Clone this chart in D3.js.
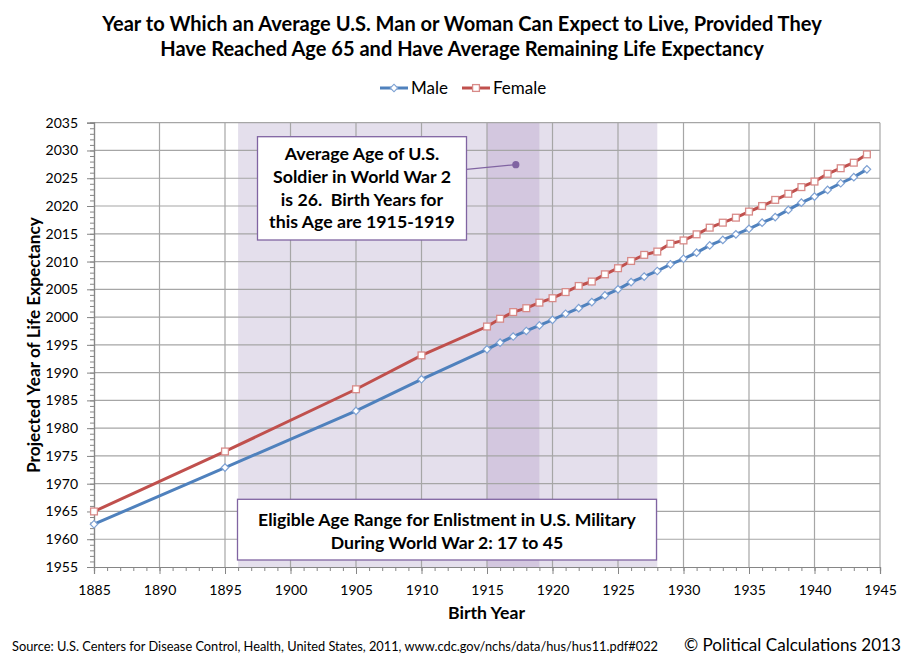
<!DOCTYPE html>
<html><head><meta charset="utf-8">
<script src="https://cdn.jsdelivr.net/npm/d3@7"></script>
<style>body{margin:0;background:#fff;} text{font-family:Lato,"Open Sans",sans-serif;fill:#000;white-space:pre;}</style>
</head><body><svg id="c" width="915" height="663"></svg>
<script>
const birthYears = [1885,1895,1905,1910,1915,1916,1917,1918,1919,1920,1921,1922,1923,1924,1925,1926,1927,1928,1929,1930,1931,1932,1933,1934,1935,1936,1937,1938,1939,1940,1941,1942,1943,1944];
const maleValues = [1962.7,1972.9,1983.1,1988.8,1994.2,1995.4,1996.5,1997.5,1998.5,1999.5,2000.6,2001.6,2002.7,2003.9,2005.0,2006.3,2007.3,2008.3,2009.5,2010.5,2011.6,2012.9,2013.9,2014.9,2015.9,2017.0,2018.0,2019.3,2020.6,2021.7,2022.9,2024.1,2025.2,2026.6];
const femaleValues = [1965.0,1975.8,1987.0,1993.1,1998.3,1999.7,2000.9,2001.6,2002.6,2003.4,2004.5,2005.6,2006.4,2007.7,2008.8,2010.1,2011.2,2011.8,2013.2,2013.8,2014.9,2016.1,2017.0,2017.9,2019.0,2020.0,2021.1,2022.2,2023.4,2024.4,2025.8,2026.8,2027.8,2029.3];
const xTicks = [1885,1890,1895,1900,1905,1910,1915,1920,1925,1930,1935,1940,1945];
const yTicks = [1955,1960,1965,1970,1975,1980,1985,1990,1995,2000,2005,2010,2015,2020,2025,2030,2035];
const enlistRange = [1896, 1928];
const soldierRange = [1915, 1919];
const soldierPoint = [1917.2, 2027.45];
const titleLines = ["Year to Which an Average U.S. Man or Woman Can Expect to Live, Provided They","Have Reached Age 65 and Have Average Remaining Life Expectancy"];
const soldierNote = ["Average Age of U.S.","Soldier in World War 2","is 26.  Birth Years for","this Age are 1915-1919"];
const enlistNote = ["Eligible Age Range for Enlistment in U.S. Military","During World War 2: 17 to 45"];

const svg = d3.select("#c");
const x = d3.scaleLinear().domain([1885,1945]).range([94,880]);
const y = d3.scaleLinear().domain([1955,2035]).range([567,122.7]);
const maleC = "#4f81bd", femC = "#c0504d", purple = "#8064a2", grid = "#a6a6a6", axisC = "#868686";

function fit(sel, w){ const l = sel.node().getComputedTextLength(); const fs = parseFloat(sel.attr("font-size")); sel.attr("font-size", fs*w/l); return sel; }

// shading
svg.append("rect").attr("x", x(enlistRange[0])).attr("y", y(2035)).attr("width", x(enlistRange[1])-x(enlistRange[0])).attr("height", y(1955)-y(2035)).attr("fill","#e4dfec");
svg.append("rect").attr("x", x(soldierRange[0])).attr("y", y(2035)).attr("width", x(soldierRange[1])-x(soldierRange[0])).attr("height", y(1955)-y(2035)).attr("fill","#d3c7df");

// gridlines
svg.append("g").selectAll("line").data(yTicks.slice(1)).join("line")
  .attr("x1", x(1885)).attr("x2", x(1945)).attr("y1", d=>y(d)).attr("y2", d=>y(d)).attr("stroke", grid).attr("stroke-width",1.2);
svg.append("g").selectAll("line").data(xTicks.slice(1)).join("line")
  .attr("y1", y(1955)).attr("y2", y(2035)).attr("x1", d=>x(d)).attr("x2", d=>x(d)).attr("stroke", grid).attr("stroke-width",1.2);

// axes
const minorX = d3.range(1885,1946), minorY = d3.range(1955,2036);
const gxm = svg.append("g").attr("transform",`translate(0,${y(1955)})`).call(d3.axisBottom(x).tickValues(minorX).tickSize(4).tickFormat(""));
const gx = svg.append("g").attr("transform",`translate(0,${y(1955)})`).call(d3.axisBottom(x).tickValues(xTicks).tickSize(7).tickPadding(11).tickFormat(d3.format("d")));
const gym = svg.append("g").attr("transform",`translate(${x(1885)},0)`).call(d3.axisLeft(y).tickValues(minorY).tickSize(4).tickFormat(""));
const gy = svg.append("g").attr("transform",`translate(${x(1885)},0)`).call(d3.axisLeft(y).tickValues(yTicks).tickSize(7).tickPadding(9).tickFormat(d3.format("d")));
[gxm,gx,gym,gy].forEach(g=>{ g.selectAll("path").attr("stroke",axisC).attr("stroke-width",1.2); g.selectAll("line").attr("stroke",axisC); g.selectAll("text").attr("font-size",14).style("font-family","Lato"); });
gx.selectAll("text").attr("dy","0.71em");

// series
const maleData = birthYears.map((b,i)=>({b, v:maleValues[i]}));
const femData = birthYears.map((b,i)=>({b, v:femaleValues[i]}));
const line = d3.line().x(d=>x(d.b)).y(d=>y(d.v));
svg.append("path").datum(maleData).attr("d",line).attr("fill","none").attr("stroke",maleC).attr("stroke-width",3);
svg.append("path").datum(femData).attr("d",line).attr("fill","none").attr("stroke",femC).attr("stroke-width",3);
svg.append("g").selectAll("path").data(maleData).join("path")
  .attr("d", d3.symbol().type(d3.symbolSquare).size(28)).attr("transform", d=>`translate(${x(d.b)},${y(d.v)}) rotate(45)`)
  .attr("fill","#fff").attr("stroke","#7ea1d3").attr("stroke-width",1.2);
svg.append("g").selectAll("rect").data(femData).join("rect")
  .attr("x", d=>x(d.b)-3.4).attr("y", d=>y(d.v)-3.4).attr("width",6.8).attr("height",6.8)
  .attr("fill","#fff").attr("stroke","#d88a88").attr("stroke-width",1.3);

// soldier annotation
const b1 = {x:257.5, y:136.7, w:209, h:103.3};
svg.append("rect").attr("x",b1.x).attr("y",b1.y).attr("width",b1.w).attr("height",b1.h).attr("fill","#fff").attr("stroke",purple).attr("stroke-width",1.3);
const s2 = svg.append("text").attr("x",b1.x+b1.w/2).attr("y",183).attr("text-anchor","middle").attr("font-weight","bold").attr("font-size",17).text(soldierNote[1]);
fit(s2,178);
const fsS = s2.attr("font-size");
[160,183,205.5,228].forEach((yy,i)=>{ if(i!==1) svg.append("text").attr("x",b1.x+b1.w/2).attr("y",yy).attr("text-anchor","middle").attr("font-weight","bold").attr("font-size",fsS).text(soldierNote[i]); });
svg.append("line").attr("x1",b1.x+b1.w).attr("y1",169.3).attr("x2",x(soldierPoint[0])).attr("y2",y(soldierPoint[1])).attr("stroke",purple).attr("stroke-width",1.2);
svg.append("circle").attr("cx",x(soldierPoint[0])).attr("cy",y(soldierPoint[1])).attr("r",3.6).attr("fill",purple);

// enlist annotation
const b2 = {x:237.5, y:499.3, w:419, h:60.7};
svg.append("rect").attr("x",b2.x).attr("y",b2.y).attr("width",b2.w).attr("height",b2.h).attr("fill","#fff").attr("stroke",purple).attr("stroke-width",1.3);
const e1 = svg.append("text").attr("x",447).attr("y",525.5).attr("text-anchor","middle").attr("font-weight","bold").attr("font-size",16).text(enlistNote[0]);
fit(e1,378);
svg.append("text").attr("x",447).attr("y",548.5).attr("text-anchor","middle").attr("font-weight","bold").attr("font-size",e1.attr("font-size")).text(enlistNote[1]);

// titles
const t1 = svg.append("text").attr("x",462).attr("y",30.5).attr("text-anchor","middle").attr("font-weight","bold").attr("font-size",18).text(titleLines[0]);
fit(t1,720);
svg.append("text").attr("x",462).attr("y",55.5).attr("text-anchor","middle").attr("font-weight","bold").attr("font-size",t1.attr("font-size")).text(titleLines[1]);

// legend
const lg = svg.append("g");
lg.append("line").attr("x1",380).attr("x2",408).attr("y1",88).attr("y2",88).attr("stroke",maleC).attr("stroke-width",3);
lg.append("path").attr("d",d3.symbol().type(d3.symbolSquare).size(28)).attr("transform","translate(394,88) rotate(45)").attr("fill","#fff").attr("stroke","#7ea1d3").attr("stroke-width",1.2);
const lm = lg.append("text").attr("x",411).attr("y",93.5).attr("font-size",16).text("Male"); fit(lm,37);
lg.append("line").attr("x1",462).attr("x2",490).attr("y1",88).attr("y2",88).attr("stroke",femC).attr("stroke-width",3);
lg.append("rect").attr("x",472.6).attr("y",84.6).attr("width",6.8).attr("height",6.8).attr("fill","#fff").attr("stroke","#d88a88").attr("stroke-width",1.3);
lg.append("text").attr("x",493).attr("y",93.5).attr("font-size",lm.attr("font-size")).text("Female");

// axis titles
const xt = svg.append("text").attr("x",486.5).attr("y",619).attr("text-anchor","middle").attr("font-weight","bold").attr("font-size",16).text("Birth Year"); fit(xt,77);
const yt = svg.append("text").attr("transform","translate(40,345) rotate(-90)").attr("text-anchor","middle").attr("font-weight","bold").attr("font-size",16).text("Projected Year of Life Expectancy"); fit(yt,256);

// footer
const src = svg.append("text").attr("x",12).attr("y",651).attr("font-size",13).text("Source: U.S. Centers for Disease Control, Health, United States, 2011, www.cdc.gov/nchs/data/hus/hus11.pdf#022"); fit(src,647);
const cp = svg.append("text").attr("x",684).attr("y",650.5).attr("font-size",16).text("© Political Calculations 2013"); fit(cp,217);
</script></body></html>
